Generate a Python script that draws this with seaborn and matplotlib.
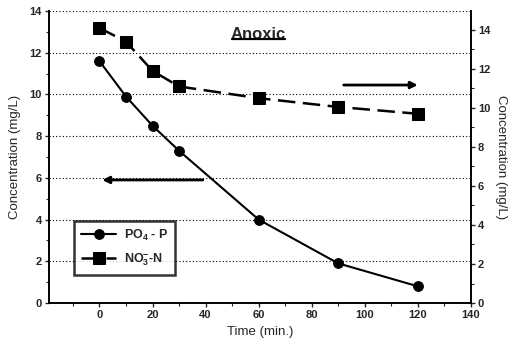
import matplotlib
matplotlib.use("Agg")
import matplotlib.pyplot as plt
import seaborn as sns
import pandas as pd
from matplotlib.ticker import MultipleLocator
from matplotlib.lines import Line2D

sns.set_style("ticks")
plt.rcParams['font.family'] = ['Liberation Sans', 'DejaVu Sans']
plt.rcParams['mathtext.fontset'] = 'custom'
plt.rcParams['mathtext.rm'] = 'Liberation Sans:bold'
plt.rcParams['mathtext.bf'] = 'Liberation Sans:bold'
plt.rcParams['mathtext.it'] = 'Liberation Sans:bold'

time_po4 = [0, 10, 20, 30, 60, 90, 120]
po4_p = [11.6, 9.9, 8.5, 7.3, 4.0, 1.9, 0.8]
time_no3 = [0, 10, 20, 30, 60, 90, 120]
no3_n = [14.1, 13.4, 11.9, 11.1, 10.5, 10.05, 9.7]
x_ticks = [0, 20, 40, 60, 80, 100, 120, 140]
left_ticks = [0, 2, 4, 6, 8, 10, 12, 14]
right_ticks = [0, 2, 4, 6, 8, 10, 12, 14]

df_p = pd.DataFrame({"Time": time_po4, "Conc": po4_p})
df_n = pd.DataFrame({"Time": time_no3, "Conc": no3_n})

fig = plt.figure(figsize=(5.19, 3.54), dpi=100)
ax = fig.add_axes([0.0944, 0.144, 0.8131, 0.825])
ax2 = ax.twinx()

sns.lineplot(data=df_p, x="Time", y="Conc", ax=ax, color="black", lw=1.5,
             marker="o", markersize=7, markeredgecolor="black", label="PO$_4$ - P", legend=False)
sns.lineplot(data=df_n, x="Time", y="Conc", ax=ax2, color="black", lw=1.8,
             marker="s", markersize=8, markeredgecolor="black", label="NO$_3^{-}$-N", legend=False)
ax2.lines[0].set_dashes([7, 3])

ax.set_xlim(-19, 140)
ax.set_ylim(0, 14)
ax2.set_ylim(0, 14.97)
ax.set_xticks(x_ticks)
ax.set_yticks(left_ticks)
ax2.set_yticks(right_ticks)
ax.xaxis.set_minor_locator(MultipleLocator(10))
ax.yaxis.set_minor_locator(MultipleLocator(1))
ax2.yaxis.set_minor_locator(MultipleLocator(1))

for a in (ax, ax2):
    a.tick_params(which="major", length=3, width=1, labelsize=8, pad=2)
    a.tick_params(which="minor", length=2, width=0.8)
    for lab in a.get_yticklabels() + a.get_xticklabels():
        lab.set_fontweight("bold")
    a.spines["top"].set_visible(False)
    for s in ("left", "right", "bottom"):
        a.spines[s].set_linewidth(1.2)
        a.spines[s].set_color("black")

ax.yaxis.grid(True, linestyle=(0, (1, 2)), color="black", linewidth=0.8)
ax.set_axisbelow(True)
ax.set_ylabel("Concentration (mg/L)", fontsize=9.5, labelpad=6)
ax2.set_ylabel("Concentration (mg/L)", fontsize=9.5, rotation=270, labelpad=12)
ax.set_xlabel("Time (min.)", fontsize=9.5, labelpad=4)

title = ax.text(60, 12.85, "Anoxic", fontsize=12, fontweight="bold", ha="center", va="center")

ax.annotate("", xy=(0, 5.9), xytext=(40, 5.9),
            arrowprops=dict(arrowstyle="-|>", color="black", lw=2, mutation_scale=10))
ax.annotate("", xy=(121, 10.45), xytext=(91, 10.45),
            arrowprops=dict(arrowstyle="-|>", color="black", lw=2, mutation_scale=10))

handles = ax.get_lines()[:1] + ax2.get_lines()[:1]
leg = ax.legend(handles=handles, labels=[h.get_label() for h in handles],
                loc="lower left", bbox_to_anchor=(0.045, 0.075), fontsize=9,
                frameon=True, fancybox=False, handlelength=2.8, borderpad=0.55,
                labelspacing=0.7, handletextpad=0.6)
leg.get_frame().set_edgecolor("black")
leg.get_frame().set_linewidth(1.8)
for t in leg.get_texts():
    t.set_fontweight("bold")

# underline the title
fig.canvas.draw()
bb = title.get_window_extent().transformed(fig.transFigure.inverted())
fig.add_artist(Line2D([bb.x0 + 0.002, bb.x1 - 0.002], [bb.y0 + 0.011, bb.y0 + 0.011],
                      transform=fig.transFigure, color="black", lw=1.6))

fig.savefig("out.png", dpi=100)
